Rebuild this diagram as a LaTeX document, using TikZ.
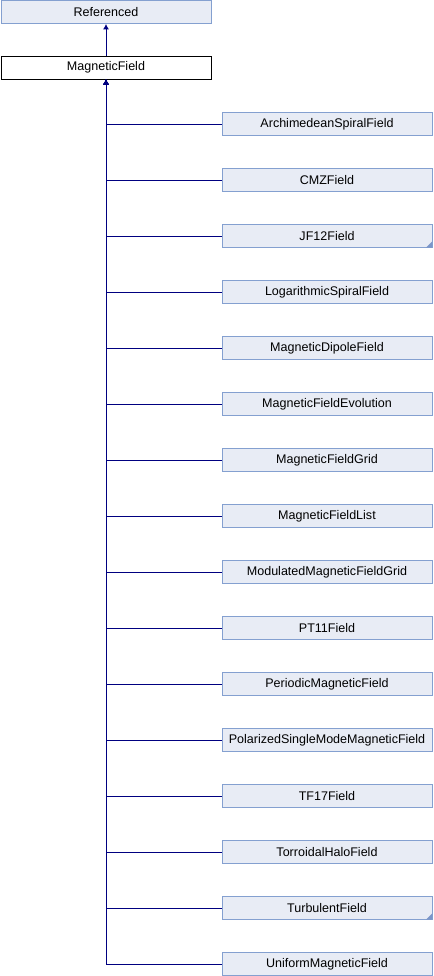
\documentclass[tikz,border=0pt]{standalone}
\usepackage{fontspec}
\setmainfont{Liberation Sans}
\usetikzlibrary{arrows.meta}
\definecolor{boxfill}{HTML}{E8ECF5}
\definecolor{boxdraw}{HTML}{84A0D0}
\definecolor{edge}{HTML}{000080}
\definecolor{corner}{HTML}{7B96C9}
\tikzset{
  cls/.style={draw=boxdraw, fill=boxfill, line width=0.75pt, minimum width=157.5pt, minimum height=17.25pt, inner sep=0pt, font=\fontsize{9.4pt}{11pt}\selectfont},
  cur/.style={cls, draw=black, fill=white},
  inh/.style={draw=edge, line width=0.75pt, -{Latex[length=4pt,width=4.5pt]}},
}
\begin{document}
\begin{tikzpicture}[x=0.75pt,y=-0.75pt]
\useasboundingbox (0,0) rectangle (434,976);
\node[cls] (ref) at (106,12) {Referenced};
\node[cur] (mf) at (106,67.5) {MagneticField};
\draw[inh] (mf.north) -- (ref.south);
\foreach \name [count=\i] in {ArchimedeanSpiralField,CMZField,JF12Field,LogarithmicSpiralField,MagneticDipoleField,MagneticFieldEvolution,MagneticFieldGrid,MagneticFieldList,ModulatedMagneticFieldGrid,PT11Field,PeriodicMagneticField,PolarizedSingleModeMagneticField,TF17Field,TorroidalHaloField,TurbulentField,UniformMagneticField}{
  \node[cls] (c\i) at (327,{124+(\i-1)*56}) {\name};
  \draw[inh] (c\i.west) -| (mf.south);
}
\foreach \i in {3,15}{
  \fill[corner] ([xshift=-0.375pt,yshift=0.375pt]c\i.south east) -- ++(-6,0) -- ++(6,-6) -- cycle;
}
\end{tikzpicture}
\end{document}
